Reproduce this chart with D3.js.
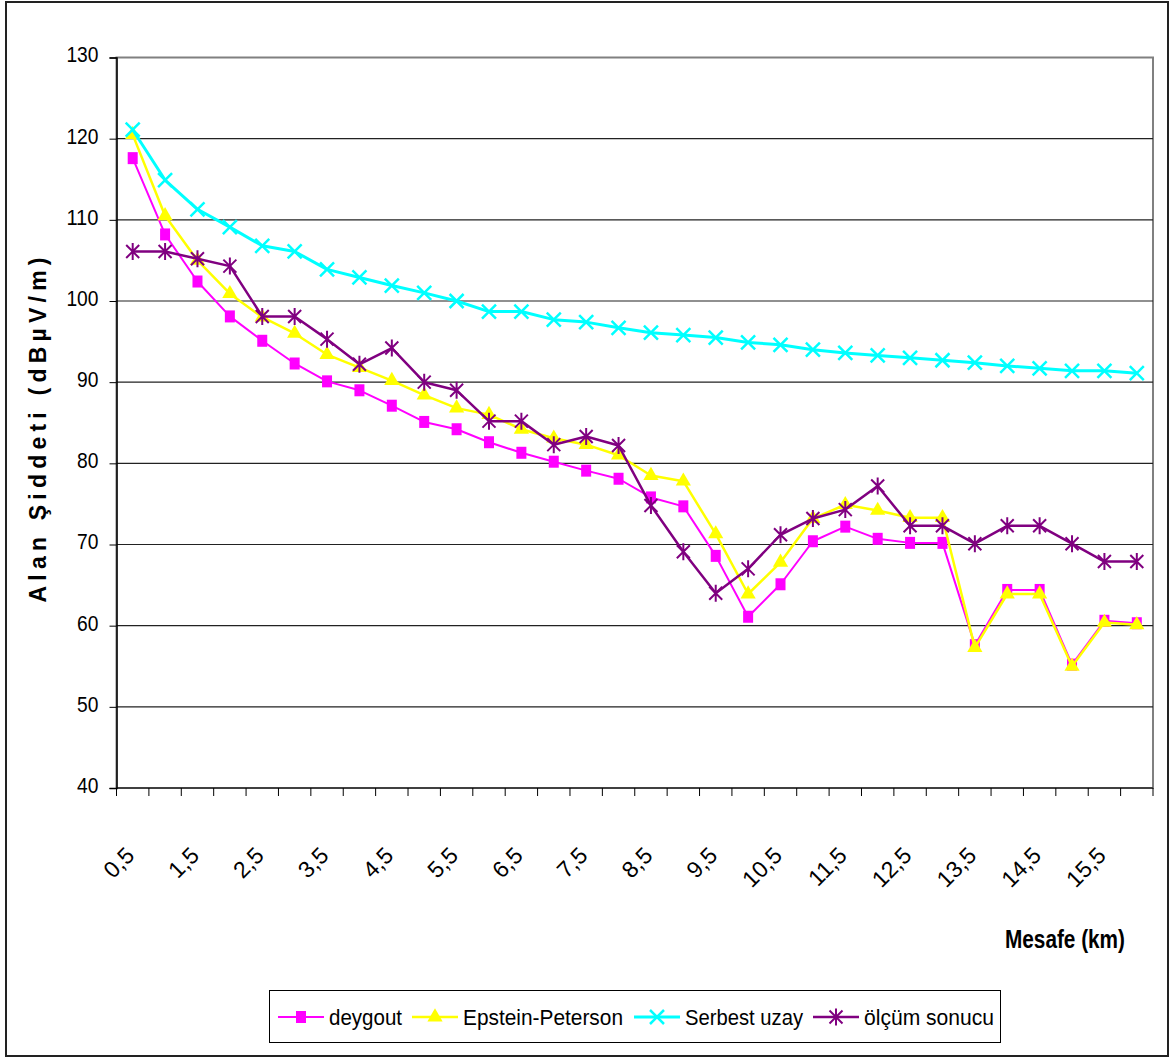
<!DOCTYPE html>
<html>
<head>
<meta charset="utf-8">
<script src="https://cdn.jsdelivr.net/npm/d3@7"></script>
<style>
  body { margin: 0; background: #fff; }
  text { font-family: "Liberation Sans", Arial, sans-serif; }
</style>
</head>
<body>
<div id="vis"></div>
<script>
// Alan şiddeti vs mesafe: three models against the measured series.

const DISTANCES = [0.5, 1, 1.5, 2, 2.5, 3, 3.5, 4, 4.5, 5, 5.5, 6, 6.5, 7, 7.5, 8,
                   8.5, 9, 9.5, 10, 10.5, 11, 11.5, 12, 12.5, 13, 13.5, 14, 14.5, 15, 15.5, 16];

const DEYGOUT = [117.6, 108.2, 102.4, 98.1, 95.1, 92.3, 90.1, 89.0, 87.1, 85.1, 84.2, 82.6,
                 81.3, 80.2, 79.1, 78.1, 75.8, 74.7, 68.6, 61.1, 65.1, 70.4, 72.2, 70.7,
                 70.2, 70.2, 57.6, 64.4, 64.4, 55.2, 60.6, 60.3];

const EPSTEIN = [120.5, 110.5, 105.0, 100.9, 98.0, 96.0, 93.4, 91.8, 90.2, 88.4, 86.8, 86.0,
                 84.2, 83.1, 82.3, 81.0, 78.5, 77.8, 71.3, 63.9, 67.8, 73.2, 74.9, 74.2,
                 73.3, 73.3, 57.3, 63.9, 63.9, 55.0, 60.4, 60.1];

const SERBEST = [121.1, 114.9, 111.3, 109.1, 106.8, 106.1, 103.9, 102.9, 101.9, 101.0, 100.0, 98.7,
                 98.7, 97.7, 97.4, 96.7, 96.1, 95.8, 95.5, 94.9, 94.6, 94.0, 93.6, 93.3,
                 93.0, 92.7, 92.4, 92.0, 91.7, 91.4, 91.4, 91.1];

const OLCUM = [106.1, 106.1, 105.2, 104.3, 98.1, 98.1, 95.3, 92.2, 94.2, 90.0, 89.0, 85.2,
               85.2, 82.3, 83.3, 82.2, 74.8, 69.1, 64.0, 67.0, 71.2, 73.2, 74.3, 77.2,
               72.3, 72.3, 70.1, 72.3, 72.3, 70.1, 67.9, 67.9];

const Y_TICKS = [40, 50, 60, 70, 80, 90, 100, 110, 120, 130];

const SERIES = [
  { name: "deygout",          values: DEYGOUT, color: "#ff00ff", width: 2,   marker: "square" },
  { name: "Epstein-Peterson", values: EPSTEIN, color: "#ffff00", width: 2.5, marker: "triangle" },
  { name: "Serbest uzay",     values: SERBEST, color: "#00ffff", width: 3,   marker: "x" },
  { name: "ölçüm sonucu",     values: OLCUM,   color: "#800080", width: 2.5, marker: "star" },
];

// legend layout: left edge of each sample line, width of each label
const LEGEND_X = [278, 412, 634, 813];
const LEGEND_TW = [73, 160, 118, 130];

const W = 1170, H = 1059;
const plot = { left: 116.5, right: 1153, top: 57.5, bottom: 788 };

const fmtKm = d => String(d).replace(".", ",");

const svg = d3.select("#vis").append("svg").attr("width", W).attr("height", H);

// outer chart border
svg.append("rect")
  .attr("x", 6).attr("y", 2).attr("width", 1162).attr("height", 1054)
  .attr("fill", "#fff").attr("stroke", "#222").attr("stroke-width", 2);

const x = d3.scaleBand().domain(DISTANCES).range([plot.left, plot.right]);
const y = d3.scaleLinear().domain([40, 130]).range([plot.bottom, plot.top]);
const cx = d => x(d) + x.bandwidth() / 2;

// plot area frame (grey) + gridlines
svg.append("rect")
  .attr("x", plot.left).attr("y", plot.top)
  .attr("width", plot.right - plot.left).attr("height", plot.bottom - plot.top)
  .attr("fill", "none").attr("stroke", "#808080").attr("stroke-width", 2);

svg.append("g")
  .selectAll("line")
  .data(Y_TICKS.filter(t => t > 40 && t < 130))
  .join("line")
    .attr("x1", plot.left).attr("x2", plot.right)
    .attr("y1", d => y(d)).attr("y2", d => y(d))
    .attr("stroke", "#222").attr("stroke-width", 1.2);

// y axis
svg.append("g")
  .attr("transform", `translate(${plot.left},0)`)
  .call(d3.axisLeft(y).tickValues(Y_TICKS).tickSize(7).tickPadding(11).tickFormat(d3.format("d")))
  .call(ax => ax.select(".domain").attr("stroke", "#000").attr("stroke-width", 1.5))
  .call(ax => ax.selectAll(".tick line").attr("stroke", "#000"))
  .selectAll("text")
    .attr("dy", "0.2em")
    .attr("textLength", d => String(d).length * 10.7)
    .attr("lengthAdjust", "spacingAndGlyphs")
    .style("font-size", "22px").style("fill", "#000")
    .style("font-family", "'Liberation Sans', Arial, sans-serif");

// x axis: ticks on category boundaries, labels every other category
const gx = svg.append("g");
gx.append("line")
  .attr("x1", plot.left).attr("x2", plot.right)
  .attr("y1", plot.bottom).attr("y2", plot.bottom)
  .attr("stroke", "#000").attr("stroke-width", 1.2);
gx.selectAll("line.tick")
  .data(DISTANCES.concat([null]))
  .join("line").attr("class", "tick")
    .attr("x1", (d, i) => i < DISTANCES.length ? x(d) : plot.right)
    .attr("x2", (d, i) => i < DISTANCES.length ? x(d) : plot.right)
    .attr("y1", plot.bottom).attr("y2", plot.bottom + 8)
    .attr("stroke", "#000").attr("stroke-width", 1);
gx.selectAll("text")
  .data(DISTANCES.filter((d, i) => i % 2 === 0))
  .join("text")
    .attr("transform", d => `translate(${cx(d) + 3},${plot.bottom + 69}) rotate(-45)`)
    .attr("text-anchor", "end")
    .style("font-size", "23px")
    .text(fmtKm);

// axis titles
svg.append("text")
  .attr("transform", `translate(46,${430}) rotate(-90)`)
  .attr("text-anchor", "middle")
  .attr("textLength", 345).attr("lengthAdjust", "spacing")
  .style("font-weight", "bold").style("font-size", "23px")
  .text("Alan Şiddeti (dBµV/m)");

svg.append("text")
  .attr("x", 1125).attr("y", 948)
  .attr("text-anchor", "end")
  .attr("textLength", 120).attr("lengthAdjust", "spacingAndGlyphs")
  .style("font-weight", "bold").style("font-size", "26px")
  .text("Mesafe (km)");

// markers
function drawMarker(sel, s) {
  const c = s.color;
  if (s.marker === "square") {
    sel.append("rect").attr("x", -5).attr("y", -6).attr("width", 10).attr("height", 12).attr("fill", c);
  } else if (s.marker === "triangle") {
    sel.append("path").attr("d", d3.symbol(d3.symbolTriangle, 100)()).attr("fill", c);
  } else if (s.marker === "x") {
    sel.append("path").attr("d", "M-7,-7L7,7M-7,7L7,-7")
      .attr("stroke", c).attr("stroke-width", 2.5).attr("fill", "none");
  } else {
    sel.append("path").attr("d", "M-6.5,-6.5L6.5,6.5M-6.5,6.5L6.5,-6.5M0,-8.5L0,8.5")
      .attr("stroke", c).attr("stroke-width", 2).attr("fill", "none");
  }
}

const line = d3.line().x(d => cx(d.x)).y(d => y(d.v));

SERIES.forEach(s => {
  const pts = DISTANCES.map((d, i) => ({ x: d, v: s.values[i] }));
  const g = svg.append("g");
  g.append("path").datum(pts)
    .attr("d", line).attr("fill", "none")
    .attr("stroke", s.color).attr("stroke-width", s.width).attr("stroke-linejoin", "round");
  g.selectAll("g.m").data(pts).join("g").attr("class", "m")
    .attr("transform", d => `translate(${cx(d.x)},${y(d.v)})`)
    .each(function () { drawMarker(d3.select(this), s); });
});

// legend
const leg = svg.append("g");
leg.append("rect")
  .attr("x", 269.5).attr("y", 990.5).attr("width", 731).attr("height", 52)
  .attr("fill", "#fff").attr("stroke", "#000").attr("stroke-width", 1);

const ly = 1017;
SERIES.forEach((s, i) => {
  const lx = LEGEND_X[i];
  leg.append("line").attr("x1", lx).attr("x2", lx + 46).attr("y1", ly).attr("y2", ly)
    .attr("stroke", s.color).attr("stroke-width", s.width);
  drawMarker(leg.append("g").attr("transform", `translate(${lx + 23},${ly})`), s);
  leg.append("text").attr("x", lx + 51).attr("y", ly + 8)
    .attr("textLength", LEGEND_TW[i]).attr("lengthAdjust", "spacingAndGlyphs")
    .style("font-size", "22px").text(s.name);
});
</script>
</body>
</html>
